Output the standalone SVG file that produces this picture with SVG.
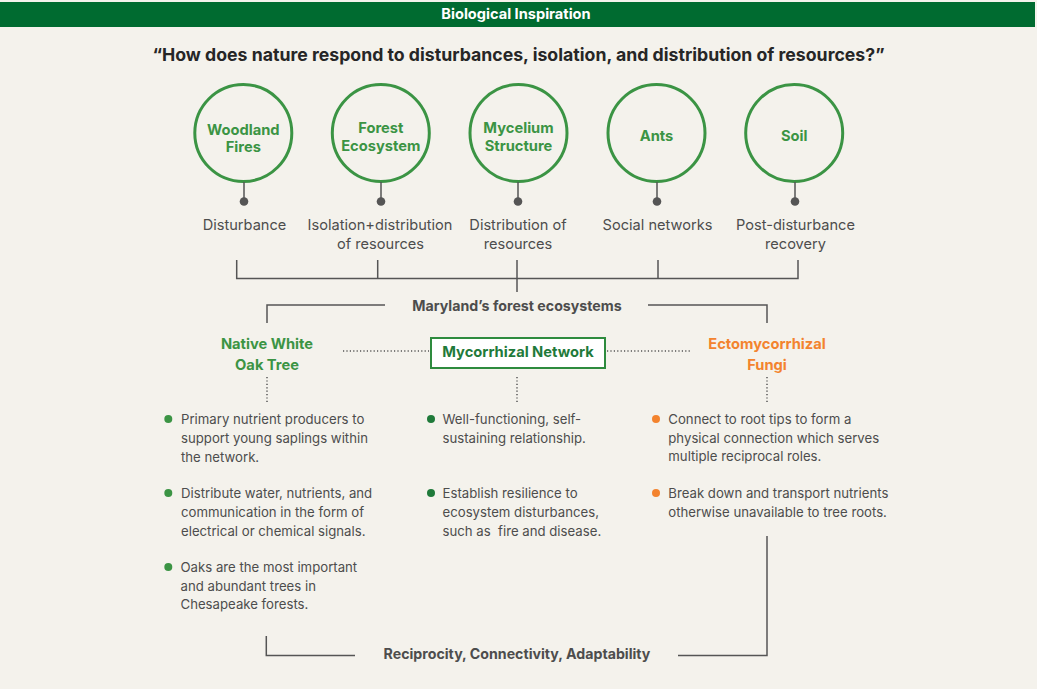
<svg xmlns="http://www.w3.org/2000/svg" width="1037" height="689" viewBox="0 0 1037 689">
<style>
text{font-family:Inter,"Liberation Sans",Arial,sans-serif}
.hdr{font-size:14.6px;font-weight:700;fill:#fff}
.q{font-size:17.7px;font-weight:700;fill:#262626}
.cl{font-size:14.7px;font-weight:700;fill:#3b9444}
.ring{fill:none;stroke:#3b9444;stroke-width:3}
.lbl{font-size:14.6px;fill:#4d4d4d}
.sec{font-size:14.2px;font-weight:700;fill:#4d4d4d}
.bt{font-size:13.2px;fill:#4d4d4d}
.ln{fill:none;stroke:#555;stroke-width:1.5}
.dot{fill:none;stroke:#555;stroke-width:1.5;stroke-dasharray:1.2 2.2}
.stem{stroke:#555;stroke-width:1.5}
.gdot{fill:#555}
.green{fill:#3b9444}
.orange{fill:#f3832e}
.dgreen{fill:#1f7a3a}
</style>
<rect x="0" y="0" width="1037" height="689" fill="#f4f2ec"/>
<g id="header">
<rect x="0" y="2" width="1035" height="25" fill="#006b30"/>
<text class="hdr" x="516" y="19" text-anchor="middle">Biological Inspiration</text>
</g>
<g id="question">
<text class="q" x="518.5" y="61" text-anchor="middle">“How does nature respond to disturbances, isolation, and distribution of resources?”</text>
</g>
<g id="node-woodland">
<circle class="ring" cx="243.3" cy="133" r="48.5"/>
<text class="cl" text-anchor="middle"><tspan x="243.3" y="134.5">Woodland</tspan><tspan x="243.3" y="152">Fires</tspan></text>
<line class="stem" x1="244" y1="182" x2="244" y2="200"/>
<circle class="gdot" cx="244" cy="201.5" r="4.3"/>
<text class="lbl" x="244.5" y="230" text-anchor="middle">Disturbance</text>
</g>
<g id="node-forest">
<circle class="ring" cx="380.8" cy="133" r="48.5"/>
<text class="cl" text-anchor="middle"><tspan x="380.8" y="132.5">Forest</tspan><tspan x="380.8" y="151">Ecosystem</tspan></text>
<line class="stem" x1="381" y1="182" x2="381" y2="200"/>
<circle class="gdot" cx="381" cy="201.5" r="4.3"/>
<text class="lbl" text-anchor="middle"><tspan x="380" y="230">Isolation+distribution</tspan><tspan x="380.5" y="249">of resources</tspan></text>
</g>
<g id="node-mycelium">
<circle class="ring" cx="518.5" cy="133" r="48.5"/>
<text class="cl" text-anchor="middle"><tspan x="518.5" y="132.5">Mycelium</tspan><tspan x="518.5" y="151">Structure</tspan></text>
<line class="stem" x1="518" y1="182" x2="518" y2="200"/>
<circle class="gdot" cx="518" cy="201.5" r="4.3"/>
<text class="lbl" text-anchor="middle"><tspan x="518" y="230">Distribution of</tspan><tspan x="518" y="249">resources</tspan></text>
</g>
<g id="node-ants">
<circle class="ring" cx="656.5" cy="133" r="48.5"/>
<text class="cl" x="656.5" y="140.5" text-anchor="middle">Ants</text>
<line class="stem" x1="657" y1="182" x2="657" y2="200"/>
<circle class="gdot" cx="657" cy="201.5" r="4.3"/>
<text class="lbl" x="657.5" y="230" text-anchor="middle">Social networks</text>
</g>
<g id="node-soil">
<circle class="ring" cx="794.2" cy="133" r="48.5"/>
<text class="cl" x="794.2" y="140.5" text-anchor="middle">Soil</text>
<line class="stem" x1="795" y1="182" x2="795" y2="200"/>
<circle class="gdot" cx="795" cy="201.5" r="4.3"/>
<text class="lbl" text-anchor="middle"><tspan x="795.5" y="230">Post-disturbance</tspan><tspan x="795.5" y="249">recovery</tspan></text>
</g>
<g id="connectors">
<path class="ln" d="M236.7 260V278.5H798V260M377.7 260V278.5M517 260V292M658 260V278.5"/>
<path class="ln" d="M267 323V305H385M648 305H767V323"/>
<path class="dot" d="M343 351H429M607 351H692"/>
<path class="dot" d="M267 377V403M517 377V403M767 377V403"/>
<path class="ln" d="M266.3 636V655.5H355M678 655.5H767V536"/>
</g>
<g id="node-maryland">
<text class="sec" x="517" y="311" text-anchor="middle">Maryland’s forest ecosystems</text>
</g>
<g id="node-oak">
<text class="cl green" text-anchor="middle"><tspan x="267" y="348.5">Native White</tspan><tspan x="267" y="369.5">Oak Tree</tspan></text>
</g>
<g id="node-network">
<rect x="431" y="338" width="174" height="30" fill="#fff" stroke="#2e8b3e" stroke-width="2"/>
<text class="cl dgreen" x="518" y="357" text-anchor="middle">Mycorrhizal Network</text>
</g>
<g id="node-fungi">
<text class="cl orange" text-anchor="middle"><tspan x="767" y="348.5">Ectomycorrhizal</tspan><tspan x="767" y="369.5">Fungi</tspan></text>
</g>
<g id="oak-bullets">
<circle class="green" cx="168.3" cy="419" r="4"/>
<text class="bt"><tspan x="181" y="424.3">Primary nutrient producers to</tspan><tspan x="181" y="443">support young saplings within</tspan><tspan x="181" y="461.5">the network.</tspan></text>
<circle class="green" cx="168.3" cy="493" r="4"/>
<text class="bt"><tspan x="181" y="498.3">Distribute water, nutrients, and</tspan><tspan x="181" y="517">communication in the form of</tspan><tspan x="181" y="535.5">electrical or chemical signals.</tspan></text>
<circle class="green" cx="168.3" cy="567" r="4"/>
<text class="bt"><tspan x="180.5" y="572">Oaks are the most important</tspan><tspan x="180.5" y="590.5">and abundant trees in</tspan><tspan x="180.5" y="609">Chesapeake forests.</tspan></text>
</g>
<g id="network-bullets">
<circle class="dgreen" cx="431" cy="419" r="4"/>
<text class="bt"><tspan x="442.5" y="424.3">Well-functioning, self-</tspan><tspan x="442.5" y="443">sustaining relationship.</tspan></text>
<circle class="dgreen" cx="431" cy="493" r="4"/>
<text class="bt"><tspan x="442.5" y="498.3">Establish resilience to</tspan><tspan x="442.5" y="517">ecosystem disturbances,</tspan><tspan x="442.5" y="535.5">such as&#160; fire and disease.</tspan></text>
</g>
<g id="fungi-bullets">
<circle class="orange" cx="656" cy="419" r="4"/>
<text class="bt"><tspan x="668.3" y="424.3">Connect to root tips to form a</tspan><tspan x="668.3" y="442.8">physical connection which serves</tspan><tspan x="668.3" y="461">multiple reciprocal roles.</tspan></text>
<circle class="orange" cx="656" cy="493" r="4"/>
<text class="bt"><tspan x="668.3" y="498.3">Break down and transport nutrients</tspan><tspan x="668.3" y="516.5">otherwise unavailable to tree roots.</tspan></text>
</g>
<g id="node-summary">
<text class="sec" x="517" y="659" text-anchor="middle">Reciprocity, Connectivity, Adaptability</text>
</g>
</svg>
